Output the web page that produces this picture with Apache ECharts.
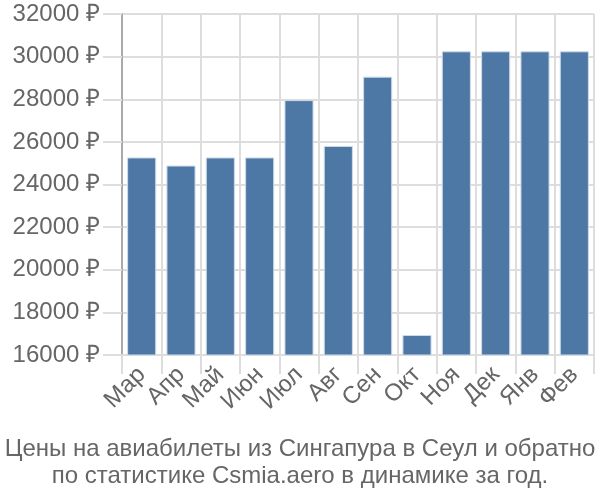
<!DOCTYPE html>
<html>
<head>
<meta charset="utf-8">
<script src="https://cdn.jsdelivr.net/npm/echarts@6/dist/echarts.min.js"></script>
<style>html,body{margin:0;padding:0;background:#fff}#c{width:600px;height:500px}</style>
</head>
<body>
<div id="c"></div>
<script>
var categories = ['Мар','Апр','Май','Июн','Июл','Авг','Сен','Окт','Ноя','Дек','Янв','Фев'];
var prices = [25270, 24890, 25270, 25270, 27960, 25810, 29060, 16940, 30250, 30250, 30250, 30250];
var yTicks = {min: 16000, max: 32000, interval: 2000};
var titleLines = ['Цены на авиабилеты из Сингапура в Сеул и обратно', 'по статистике Csmia.aero в динамике за год.'];

var chart = echarts.init(document.getElementById('c'), null, {renderer: 'canvas'});
var font = '"Liberation Sans", Arial, sans-serif';
chart.setOption({
  animation: false,
  title: {
    text: titleLines.join('\n'),
    left: 'center',
    top: 431,
    textStyle: {fontFamily: font, fontSize: 24, fontWeight: 'normal', color: '#666', lineHeight: 27}
  },
  grid: {left: 122, right: 6, top: 14, bottom: 145, containLabel: false},
  xAxis: {
    type: 'category',
    data: categories,
    axisLine: {show: true, lineStyle: {color: '#ddd', width: 2}},
    axisTick: {show: true, length: 19, lineStyle: {color: '#ddd', width: 2}},
    splitLine: {show: true, lineStyle: {color: '#ddd', width: 2}},
    axisLabel: {rotate: 45, fontFamily: font, fontSize: 24, color: '#666', margin: 16, interval: 0}
  },
  yAxis: {
    type: 'value',
    min: yTicks.min, max: yTicks.max, interval: yTicks.interval,
    axisLine: {show: true, lineStyle: {color: '#aaa', width: 2}},
    axisTick: {show: true, length: 19, lineStyle: {color: '#ddd', width: 2}},
    splitLine: {show: true, lineStyle: {color: '#ddd', width: 2}},
    axisLabel: {fontFamily: font, fontSize: 24, color: '#666', margin: 22, formatter: function(v){return v + ' ₽';}}
  },
  series: [{
    type: 'bar',
    data: prices,
    barCategoryGap: '26%',
    itemStyle: {color: '#4d78a6', borderColor: '#cfdbe8', borderWidth: 1}
  }]
});
</script>
</body>
</html>
